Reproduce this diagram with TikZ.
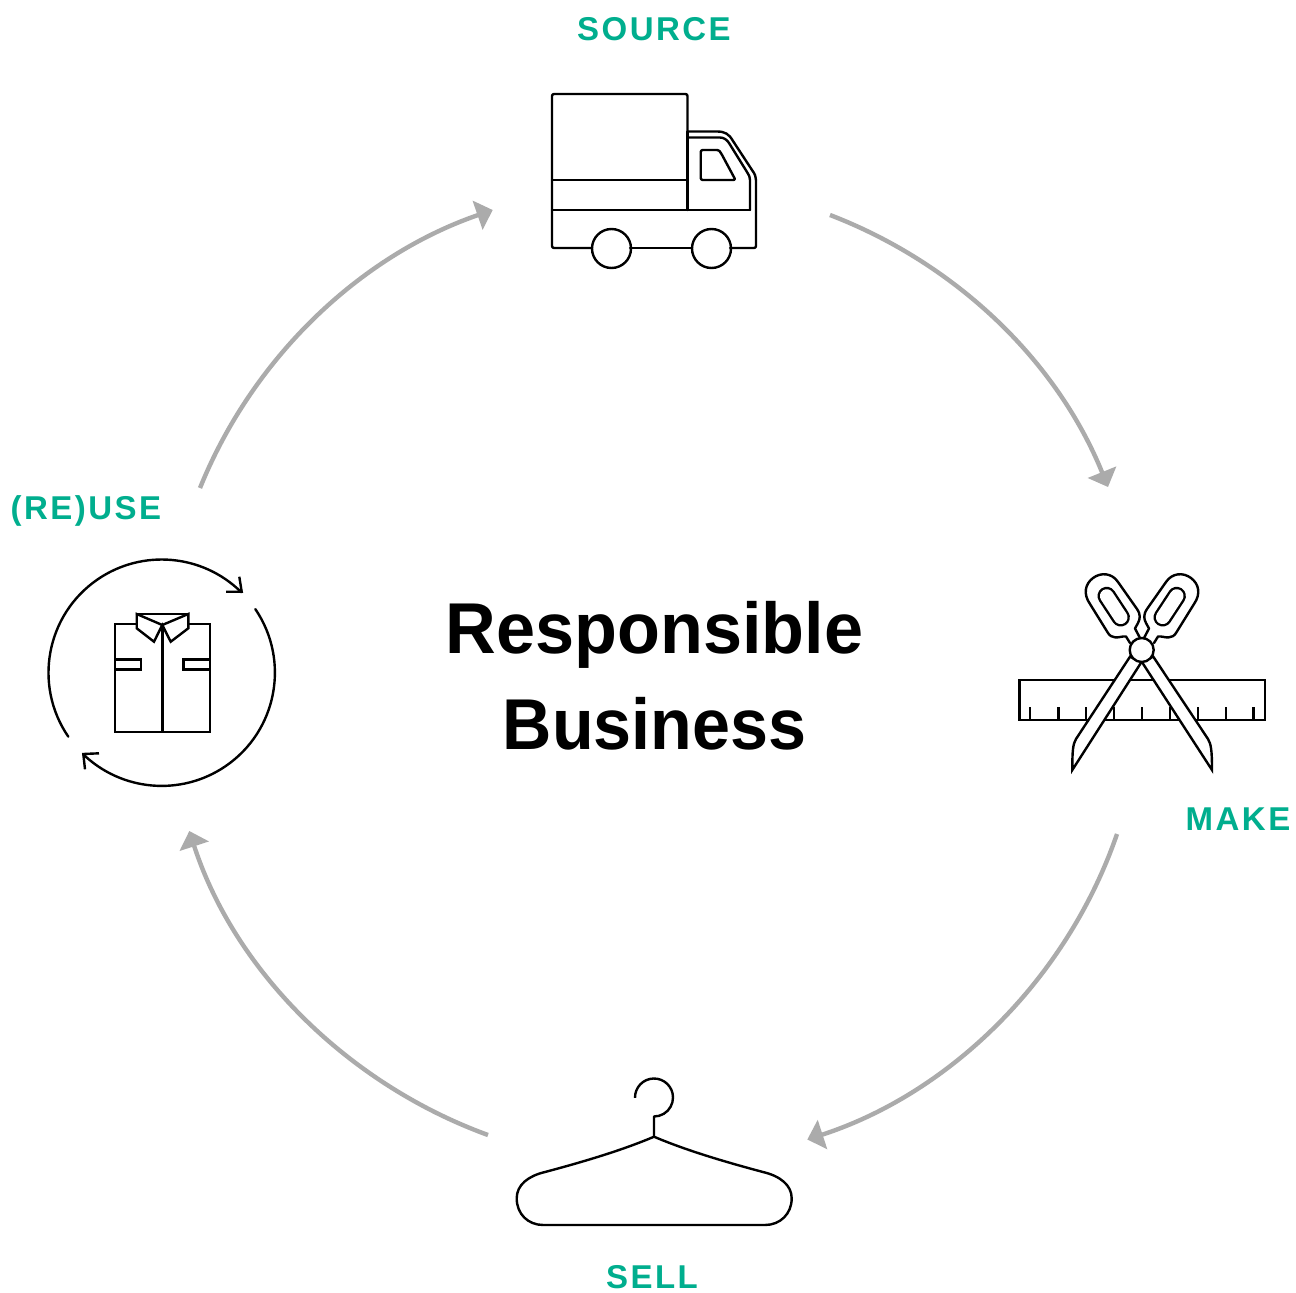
\documentclass[tikz,border=0pt]{standalone}
\usepackage{fontspec}
\usetikzlibrary{arrows.meta}
\setmainfont{Liberation Sans}
\newfontfamily\titlefont[FakeStretch=.975]{Liberation Sans}
\newfontfamily\titlefontb[FakeStretch=.948]{Liberation Sans}
\definecolor{teal1}{HTML}{00AE8E}
\definecolor{grayarrow}{HTML}{ABABAB}
\tikzset{
  flow/.style={draw=grayarrow,line width=4.4pt,-{Triangle[length=16pt,width=30pt]}},
  icon/.style={draw=black,line width=2.4pt,line join=round,line cap=round},
  hole/.style={icon,double=white,double distance=13.6pt},
  lab/.style={text=teal1,inner sep=0pt,anchor=base,font=\fontsize{33}{33}\selectfont\bfseries\addfontfeatures{LetterSpace=7.5}},
  title/.style={text=black,inner sep=0pt,align=center,font=\fontsize{72}{96}\selectfont\bfseries}
}
\begin{document}
\begin{tikzpicture}[x=1pt,y=-1pt]
\useasboundingbox (0,0) rectangle (1296,1293);
\fill[white] (0,0) rectangle (1296,1293);
\node[title] (t) at (654.5,676) {{\titlefont\bfseries Responsible}\\{\titlefontb\bfseries Business}};
\node[lab] (source) at (654,40) {SOURCE};
\node[lab] (make) at (1238,830) {MAKE};
\node[lab] (sell) at (652,1288) {SELL};
\node[lab] (reuse) at (86,519) {(RE)USE};
% arrows
\coordinate (a1) at (830,215); \coordinate (a2) at (1108,487);
\coordinate (b1) at (1117,834); \coordinate (b2) at (807.3,1139.5);
\coordinate (c1) at (488,1135); \coordinate (c2) at (189.3,831);
\coordinate (d1) at (200,488); \coordinate (d2) at (492.7,210);
\draw[flow] (a1) to[out=-21,in=112,looseness=.89] (a2);
\draw[flow] (b1) to[out=-109,in=18,looseness=.89] (b2);
\draw[flow] (c1) to[out=160,in=-72,looseness=.89] (c2);
\draw[flow] (d1) to[out=68,in=-161,looseness=.89] (d2);
% truck
\draw[icon,rounded corners=2pt] (687.5,131.5) -- (687.5,94) -- (552,94) -- (552,248) -- (592,248);
\draw[icon] (630,248) -- (692,248);
\draw[icon,rounded corners=2pt] (730,248) -- (756,248) -- (756,180);
\draw[icon] (687.5,131.5) -- (717,131.5) .. controls (725,131.5) and (729,134) .. (733,141) -- (752,170) .. controls (755,174) and (756,177) .. (756,180);
\draw[icon] (687.5,137.5) -- (720,137.5) .. controls (724,137.5) and (727,140) .. (729,143) -- (747,172) .. controls (749,175) and (750,177) .. (750,180) -- (750,210);
\draw[icon] (687.5,131.5) -- (687.5,210);
\draw[icon] (552,180) -- (687.5,180);
\draw[icon] (552,210) -- (750,210);
\draw[icon,rounded corners=2pt] (700.7,150) -- (715,150) .. controls (718,150) and (719.5,151) .. (721,153) -- (735.5,180) -- (700.7,180) -- cycle;
\node[icon,circle,minimum size=39pt,inner sep=0pt] (w1) at (611.5,248.5) {};
\node[icon,circle,minimum size=39pt,inner sep=0pt] (w2) at (711.5,248.5) {};
% ruler
\draw[icon,line cap=butt,line join=miter] (1019.3,680) rectangle (1265,720);
\foreach \x in {1030,1058.3,1086,1114,1141.7,1170,1197.7,1225.7,1253.3}
  \draw[icon,line cap=butt] (\x,720) -- (\x,707);
% blades
\filldraw[icon,fill=white,line join=miter] (1130,656.7) -- (1076,739) .. controls (1073,744) and (1072.3,750) .. (1072.3,770) -- (1141.7,661.7) -- cycle;
\filldraw[icon,fill=white,line join=miter] (1153.3,656.7) -- (1208,739) .. controls (1211,744) and (1212,750) .. (1212,770) -- (1141.7,661.7) -- cycle;
% handles
\draw[icon] (1130,643) -- (1126,636.5) .. controls (1122,636) and (1118,638) .. (1115,637.3) .. controls (1112,637) and (1110,636) .. (1108,633) -- (1090,604) .. controls (1083,594) and (1085,584) .. (1093,578) .. controls (1101,572) and (1112,573) .. (1118,582) -- (1137,609) .. controls (1141,615) and (1140,619) .. (1138,623) -- (1135,628.5) -- (1140,638);
\draw[icon] (1154,643) -- (1158,636.5) .. controls (1162,636) and (1166,638) .. (1169,637.3) .. controls (1172,637) and (1174,636) .. (1176,633) -- (1194,604) .. controls (1201,594) and (1199,584) .. (1191,578) .. controls (1183,572) and (1172,573) .. (1166,582) -- (1147,609) .. controls (1143,615) and (1144,619) .. (1146,623) -- (1149,628.5) -- (1144,638);
\draw[hole] (1106.7,596) -- (1120.7,617.3);
\draw[hole] (1176.7,596) -- (1162.7,617.3);
\node[icon,fill=white,circle,minimum size=24pt,inner sep=0pt] (pivot) at (1141.7,650) {};
% shirt
\draw[icon,line cap=butt,line join=miter] (136.7,624) -- (115,624) -- (115,731.7) -- (210,731.7) -- (210,624) -- (188.3,624);
\draw[icon,line join=miter] (136.7,614) -- (188.3,614);
\draw[icon,line join=miter] (162.3,625) -- (136.7,614) -- (136.7,628.3) -- (154,641.7) -- (162.3,625) -- (170.7,641.7) -- (188.3,628.3) -- (188.3,614) -- cycle;
\draw[icon,line cap=butt] (162.3,625) -- (162.3,731.7);
\draw[icon,line cap=butt,line join=miter] (115,659.3) rectangle (141,669.3);
\draw[icon,line cap=butt,line join=miter] (183.3,659.3) rectangle (210,669.3);
% cycle arrows
\coordinate (cc) at (161.7,672.7);
\draw[icon] (cc) ++(214.4:113.2pt) arc[start angle=214.4,end angle=45.3,radius=113.2pt];
\draw[icon] (cc) ++(34.2:113.2pt) arc[start angle=34.2,end angle=-134,radius=113.2pt];
\coordinate (h1) at (241.7,591.7); \coordinate (h1a) at (239.3,576.7); \coordinate (h1b) at (226,591.7);
\coordinate (h2) at (83.3,754); \coordinate (h2a) at (99,753.3); \coordinate (h2b) at (85,769.3);
\draw[icon,line cap=butt,line join=miter] (h1a) -- (h1) -- (h1b);
\draw[icon,line cap=butt,line join=miter] (h2a) -- (h2) -- (h2b);
% hanger
\coordinate (hk) at (654,1097.5);
\draw[icon,line cap=butt] (hk) ++(181:19pt) arc[start angle=181,end angle=-90,radius=19pt] -- (654,1136.7);
\draw[icon] (654,1136.7) .. controls (625,1149) and (590,1160) .. (545,1172) .. controls (528,1176) and (516.7,1185) .. (516.7,1198.3) .. controls (516.7,1214) and (528,1225) .. (543.3,1225) -- (765,1225) .. controls (780,1225) and (791.7,1214) .. (791.7,1198.3) .. controls (791.7,1185) and (780,1176) .. (763,1172) .. controls (718,1160) and (683,1149) .. (654,1136.7) -- cycle;
\end{tikzpicture}
\end{document}
